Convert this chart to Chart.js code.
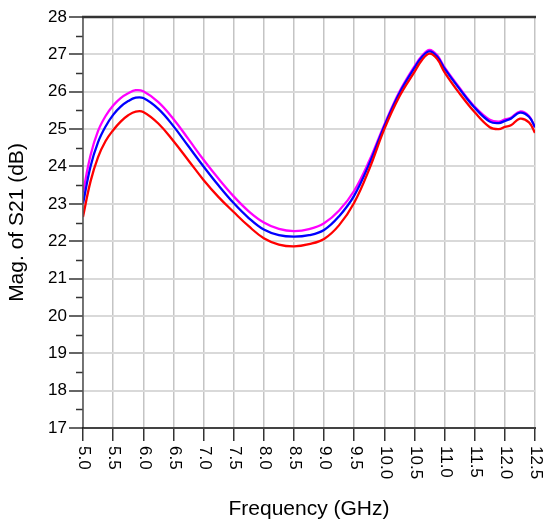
<!DOCTYPE html>
<html>
<head>
<meta charset="utf-8">
<script src="https://cdn.jsdelivr.net/npm/chart.js@4/dist/chart.umd.min.js"></script>
<style>
  html, body { margin: 0; padding: 0; background: #ffffff; }
  #wrap { width: 545px; height: 526px; position: relative; }
</style>
</head>
<body>
<div id="wrap"><canvas id="c" width="545" height="526"></canvas></div>
<script>
// Frequency points (GHz)
const freq = [5.0, 5.125, 5.25, 5.375, 5.5, 5.625, 5.75, 5.875, 6.0, 6.25, 6.5, 6.75, 7.0, 7.25, 7.5, 7.75, 8.0, 8.25, 8.5, 8.75, 9.0, 9.25, 9.5, 9.75, 10.0, 10.25, 10.5, 10.625, 10.75, 10.875, 11.0, 11.25, 11.5, 11.75, 11.9, 12.0, 12.1, 12.25, 12.4, 12.5];
// Mag. of S21 (dB), magenta trace
const s21Magenta = [23.3, 24.3, 24.95, 25.35, 25.63, 25.83, 25.96, 26.04, 26.01, 25.72, 25.27, 24.73, 24.18, 23.67, 23.2, 22.8, 22.5, 22.33, 22.27, 22.32, 22.48, 22.82, 23.35, 24.15, 25.12, 26.0, 26.68, 26.96, 27.12, 26.98, 26.65, 26.1, 25.6, 25.25, 25.2, 25.26, 25.3, 25.47, 25.35, 25.05];
// blue trace
const s21Blue = [23.0, 24.0, 24.65, 25.07, 25.38, 25.6, 25.75, 25.84, 25.83, 25.54, 25.08, 24.54, 24.0, 23.49, 23.02, 22.62, 22.31, 22.16, 22.12, 22.16, 22.3, 22.67, 23.22, 24.07, 25.08, 25.96, 26.64, 26.93, 27.08, 26.94, 26.62, 26.07, 25.57, 25.2, 25.16, 25.22, 25.28, 25.44, 25.33, 25.05];
// red trace
const s21Red = [22.65, 23.6, 24.25, 24.68, 24.97, 25.2, 25.37, 25.47, 25.46, 25.15, 24.68, 24.16, 23.64, 23.18, 22.78, 22.4, 22.08, 21.91, 21.86, 21.92, 22.06, 22.43, 23.03, 23.93, 25.0, 25.87, 26.53, 26.85, 27.02, 26.88, 26.52, 25.95, 25.45, 25.05, 25.0, 25.06, 25.1, 25.28, 25.18, 24.9];
// Tick labels
const xTickValues = [5.0, 5.5, 6.0, 6.5, 7.0, 7.5, 8.0, 8.5, 9.0, 9.5, 10.0, 10.5, 11.0, 11.5, 12.0, 12.5];
const yTickValues = [17, 18, 19, 20, 21, 22, 23, 24, 25, 26, 27, 28];
const xTitle = 'Frequency (GHz)';
const yTitle = 'Mag. of S21 (dB)';

const FONT = '"Liberation Sans", Arial, sans-serif';

function pts(ys) { return freq.map((f, i) => ({ x: f, y: ys[i] })); }

const customPlugin = {
  id: 'custom',
  afterDraw(chart) {
    const ctx = chart.ctx;
    const xs = chart.scales.x, ys = chart.scales.y;
    const a = chart.chartArea;
    ctx.save();
    // minor y ticks
    ctx.strokeStyle = '#333';
    ctx.lineWidth = 1.5;
    for (let v = 17.5; v < 28; v += 1) {
      const py = Math.round(ys.getPixelForValue(v)) + 0.5;
      ctx.beginPath(); ctx.moveTo(a.left - 7, py); ctx.lineTo(a.left, py); ctx.stroke();
    }
    // axes lines
    ctx.strokeStyle = '#555';
    ctx.lineWidth = 1.5;
    ctx.beginPath(); ctx.moveTo(a.left, a.top); ctx.lineTo(a.left, a.bottom); ctx.stroke();
    ctx.strokeStyle = '#111';
    ctx.beginPath(); ctx.moveTo(a.left - 1, a.bottom); ctx.lineTo(a.right + 1, a.bottom); ctx.stroke();
    ctx.lineWidth = 2.5;
    ctx.strokeStyle = '#333';
    ctx.beginPath(); ctx.moveTo(a.left - 1, a.top); ctx.lineTo(a.right + 1, a.top); ctx.stroke();
    // x tick labels, rotated clockwise
    ctx.fillStyle = '#000';
    ctx.font = '17px ' + FONT;
    ctx.textAlign = 'left';
    ctx.textBaseline = 'middle';
    xTickValues.forEach(v => {
      const px = xs.getPixelForValue(v);
      ctx.save();
      ctx.translate(px + 1, a.bottom + 18);
      ctx.rotate(Math.PI / 2);
      ctx.fillText(v.toFixed(1), 0, 0);
      ctx.restore();
    });
    ctx.restore();
  }
};

new Chart(document.getElementById('c'), {
  type: 'line',
  data: {
    datasets: [
      { label: 'red', data: pts(s21Red), borderColor: '#ff0000', borderWidth: 2.3, pointRadius: 0, tension: 0.4, fill: false },
      { label: 'blue', data: pts(s21Blue), borderColor: '#0000ff', borderWidth: 2.3, pointRadius: 0, tension: 0.4, fill: false },
      { label: 'magenta', data: pts(s21Magenta), borderColor: '#ff00ff', borderWidth: 2.3, pointRadius: 0, tension: 0.4, fill: false }
    ]
  },
  options: {
    responsive: false,
    animation: false,
    devicePixelRatio: 1,
    layout: { padding: { top: 17, right: 10, left: 0, bottom: 0 } },
    plugins: { legend: { display: false }, tooltip: { enabled: false } },
    scales: {
      x: {
        type: 'linear',
        min: 5.0, max: 12.5,
        afterBuildTicks(scale) { scale.ticks = xTickValues.map(v => ({ value: v })); },
        afterFit(scale) { scale.height = 98; },
        grid: { color: '#c4c4c4', lineWidth: 1.5, drawTicks: true, tickLength: 13, tickColor: '#333', tickWidth: 1.5 },
        border: { display: false },
        ticks: { display: false },
        title: { display: true, text: xTitle, color: '#000', font: { family: FONT, size: 21 }, padding: { top: 0, bottom: 4 } }
      },
      y: {
        type: 'linear',
        min: 17, max: 28,
        afterBuildTicks(scale) { scale.ticks = yTickValues.map(v => ({ value: v })); },
        afterFit(scale) { scale.width = 83; },
        grid: { color: '#d9d9d9', lineWidth: 2, drawTicks: true, tickLength: 14, tickColor: '#333', tickWidth: 1.5 },
        border: { display: false },
        ticks: { color: '#000', font: { family: FONT, size: 17 }, padding: 2, callback: v => String(v) },
        title: { display: true, text: yTitle, color: '#000', font: { family: FONT, size: 21 }, padding: { top: 5, bottom: 0 } }
      }
    }
  },
  plugins: [customPlugin]
});
</script>
</body>
</html>
